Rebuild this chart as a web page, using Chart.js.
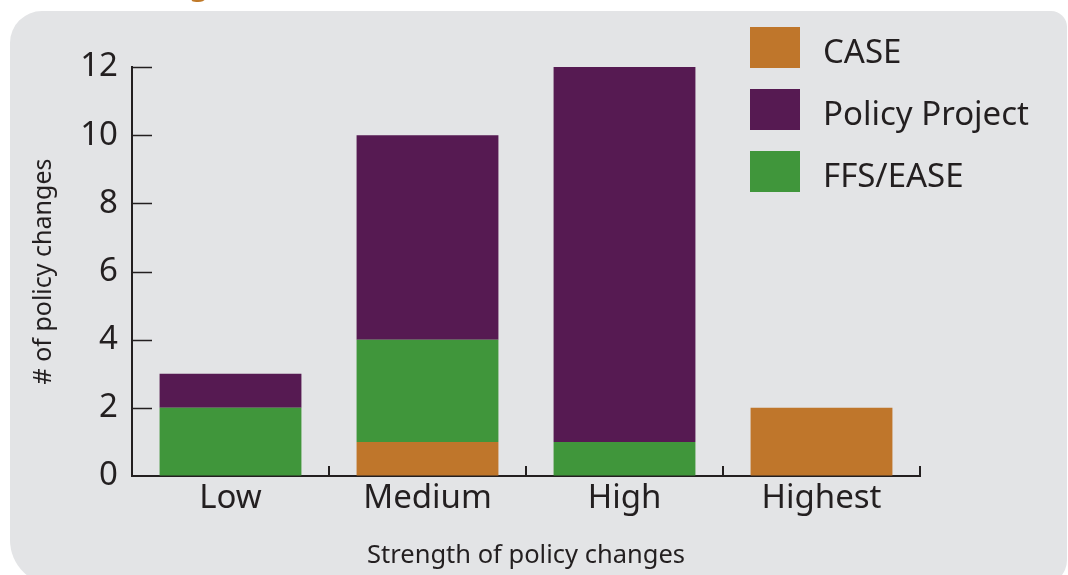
<!DOCTYPE html>
<html>
<head>
<meta charset="utf-8">
<script src="https://cdn.jsdelivr.net/npm/chart.js@4/dist/chart.umd.min.js"></script>
<style>
  html, body { margin: 0; padding: 0; background: #ffffff; }
  #wrap { width: 1068px; height: 575px; position: relative; }
</style>
</head>
<body>
<div id="wrap"><canvas id="chart" width="1068" height="575"></canvas></div>
<script>
// Policy changes by strength, split by programme
const categories = ['Low', 'Medium', 'High', 'Highest'];
const caseValues = [0, 1, 0, 2];
const ffsEaseValues = [2, 3, 1, 0];
const policyProjectValues = [1, 6, 11, 0];
const yTickValues = [0, 2, 4, 6, 8, 10, 12];
const legendOrder = ['CASE', 'Policy Project', 'FFS/EASE'];

const INK = '#231f20';
const FONT = '"Noto Sans", "Open Sans", sans-serif';

// Grey rounded panel behind the plot, plus the tail of the heading above it
const panelPlugin = {
  id: 'panel',
  beforeDraw(chart) {
    const ctx = chart.ctx;
    ctx.save();
    ctx.fillStyle = '#ffffff';
    ctx.fillRect(0, 0, chart.width, chart.height);
    ctx.fillStyle = '#e3e4e6';
    ctx.beginPath();
    ctx.roundRect(10, 11, 1057, 574, [32, 16, 25, 45]);
    ctx.fill();
    ctx.fillStyle = '#c07a2a';
    ctx.font = 'bold 30px ' + FONT;
    ctx.textAlign = 'center';
    ctx.textBaseline = 'alphabetic';
    ctx.fillText('g', 199, -5);
    ctx.restore();
  }
};

// Inward ticks on the value axis, upward ticks between categories
const axisTicksPlugin = {
  id: 'axisTicks',
  afterDraw(chart) {
    const ctx = chart.ctx;
    const x = chart.scales.x;
    const y = chart.scales.y;
    const area = chart.chartArea;
    ctx.save();
    ctx.strokeStyle = INK;
    ctx.lineWidth = 1.6;
    ctx.beginPath();
    y.ticks.forEach(t => {
      if (t.value === 0) return;
      const py = Math.round(y.getPixelForValue(t.value)) + 0.5;
      ctx.moveTo(area.left, py);
      ctx.lineTo(area.left + 20, py);
    });
    ctx.stroke();
    ctx.lineWidth = 2;
    ctx.beginPath();
    const n = categories.length;
    const half = (x.getPixelForValue(1) - x.getPixelForValue(0)) / 2;
    for (let i = 0; i < n; i++) {
      const px = Math.round(x.getPixelForValue(i) + half);
      ctx.moveTo(px, area.bottom);
      ctx.lineTo(px, area.bottom - 10);
    }
    ctx.stroke();
    ctx.restore();
  }
};

// Legend block in the upper right
const legendPlugin = {
  id: 'sideLegend',
  afterDraw(chart) {
    const ctx = chart.ctx;
    ctx.save();
    ctx.font = '33px ' + FONT;
    ctx.textAlign = 'left';
    ctx.textBaseline = 'alphabetic';
    legendOrder.forEach((label, i) => {
      const ds = chart.data.datasets.find(d => d.label === label);
      const top = 27 + i * 62;
      ctx.fillStyle = ds.backgroundColor;
      ctx.fillRect(750, top, 50, 41);
      ctx.fillStyle = INK;
      ctx.fillText(label, 823, top + 36);
    });
    ctx.restore();
  }
};

new Chart(document.getElementById('chart'), {
  type: 'bar',
  data: {
    labels: categories,
    datasets: [
      { label: 'CASE', data: caseValues, backgroundColor: '#bf762b' },
      { label: 'FFS/EASE', data: ffsEaseValues, backgroundColor: '#40963b' },
      { label: 'Policy Project', data: policyProjectValues, backgroundColor: '#561a52' }
    ]
  },
  options: {
    responsive: false,
    animation: false,
    events: [],
    layout: { padding: { left: 0, right: 148, top: 67, bottom: 0 } },
    datasets: {
      bar: { categoryPercentage: 1.0, barPercentage: 0.72, borderWidth: 0 }
    },
    plugins: {
      legend: { display: false },
      tooltip: { enabled: false }
    },
    scales: {
      x: {
        stacked: true,
        grid: { display: false, drawTicks: false },
        border: { display: true, color: INK, width: 2 },
        ticks: { color: INK, font: { family: FONT, size: 33 }, padding: 3, maxRotation: 0 },
        title: {
          display: true,
          text: 'Strength of policy changes',
          color: INK,
          font: { family: FONT, size: 25.5 },
          padding: { top: 0, bottom: 4 }
        },
        afterFit(s) { s.height = 99; }
      },
      y: {
        stacked: true,
        min: 0,
        max: 12,
        afterBuildTicks(s) { s.ticks = yTickValues.map(v => ({ value: v })); },
        grid: { display: true, drawOnChartArea: false, drawTicks: false, color: 'rgba(0,0,0,0)' },
        border: { display: true, color: INK, width: 2 },
        ticks: { color: INK, font: { family: FONT, size: 33 }, padding: 14 },
        title: {
          display: true,
          text: '# of policy changes',
          color: INK,
          font: { family: FONT, size: 25 },
          padding: { top: 29, bottom: 0 }
        },
        afterFit(s) { s.width = 132; }
      }
    }
  },
  plugins: [panelPlugin, axisTicksPlugin, legendPlugin]
});
</script>
</body>
</html>
